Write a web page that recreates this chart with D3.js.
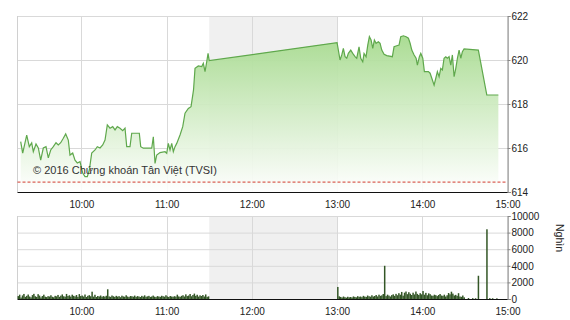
<!DOCTYPE html>
<html>
<head>
<meta charset="utf-8">
<script src="https://cdn.jsdelivr.net/npm/d3@7"></script>
<style>
  body { margin: 0; background: #fff; }
  svg { display: block; font-family: "Liberation Sans", Arial, sans-serif; }
</style>
</head>
<body>
<svg id="chart" width="570" height="320"></svg>
<script>
// price line (time, index value)
const priceTimes = [
  "9:17:15","9:18:40","9:21:29","9:23:19","9:25:00","9:26:08","9:28:02","9:29:39","9:31:20","9:33:10",
  "9:35:04","9:36:41","9:38:23","9:40:13","9:42:07","9:43:44","9:45:25","9:47:15","9:48:56","9:50:46",
  "9:51:58","9:53:52","9:55:29","9:57:07","9:59:01","10:00:55","10:02:32","10:04:09","10:05:34","10:07:15",
  "10:09:35","10:11:11","10:13:06","10:15:00","10:16:37","10:18:14","10:20:08","10:22:02","10:23:40","10:25:17",
  "10:27:11","10:29:05","10:30:42","10:31:54","10:34:13","10:35:25","10:40:46","10:41:45","10:43:35","10:49:30",
  "10:50:38","10:51:50","10:53:01","10:55:21","10:58:52","11:00:04","11:01:11","11:02:23","11:03:35","11:04:43",
  "11:05:55","11:07:07","11:09:26","11:11:20","11:12:57","11:15:17","11:17:11","11:18:56","11:19:59","11:22:19",
  "11:24:43","11:25:50","11:27:02","11:28:14","11:29:10","11:30:00",
  "13:00:00","13:02:06","13:03:18","13:04:26","13:05:38","13:06:49","13:07:57","13:09:38","13:11:02","13:12:39",
  "13:13:51","13:15:28","13:16:40","13:18:05","13:19:00","13:20:25","13:21:37","13:22:45","13:23:57","13:25:08",
  "13:26:16","13:27:28","13:29:05","13:30:17","13:31:29","13:33:06","13:35:00","13:38:56","13:40:07","13:42:01",
  "13:43:38","13:44:50","13:46:43","13:48:37","13:50:14","13:51:26","13:52:37","13:54:15","13:55:39","13:56:33",
  "13:57:58","13:58:57","14:00:21","14:01:29","14:04:18","14:05:30","14:07:07","14:08:19","14:09:31","14:10:38",
  "14:11:50","14:13:01","14:14:09","14:15:20","14:16:32","14:17:40","14:18:52","14:20:04","14:21:12","14:22:24",
  "14:23:36","14:24:44","14:25:55","14:27:07","14:28:14","14:29:26","14:39:29","14:45:25","14:53:34"
];
const priceValues = [
  616.29,615.77,616.59,616.06,616.23,615.83,616.18,616.00,615.45,616.00,
  616.06,615.55,615.91,616.06,616.24,616.14,616.24,616.44,616.64,616.36,
  615.68,615.77,615.45,615.32,615.38,614.86,614.70,614.70,615.00,615.77,
  615.91,616.06,616.00,616.14,616.36,617.05,616.90,616.97,616.82,616.97,
  616.90,616.79,616.90,616.06,616.06,616.67,616.67,616.06,615.99,615.99,
  616.51,615.30,615.68,615.79,615.83,615.76,616.21,615.91,616.21,615.83,
  616.06,616.21,616.59,616.97,617.58,617.80,617.88,618.64,619.62,619.73,
  619.70,619.85,619.47,619.92,620.30,619.97,
  620.79,620.00,620.23,620.53,620.15,620.08,620.30,620.45,620.30,620.15,
  620.08,620.60,620.08,619.92,620.30,620.15,620.68,621.06,620.91,620.53,
  620.91,620.76,620.83,620.76,620.45,620.26,620.20,620.15,620.60,620.65,
  620.68,621.06,621.10,621.06,620.99,620.76,620.45,620.23,620.08,619.77,
  620.15,620.30,620.08,619.47,619.47,619.40,619.09,618.86,619.17,619.47,
  619.24,619.62,619.55,620.08,620.15,620.08,620.15,619.77,620.23,619.24,
  619.62,620.08,620.45,620.08,620.38,620.50,620.45,618.41,618.41
];
const refPrice = 614.45;

// volume per minute, thousand shares (Nghìn)
const volAMStart = "9:15:00";
const volAM = [
  350,520,180,430,610,260,380,540,300,200,
  470,620,330,250,580,410,190,360,520,280,
  230,340,300,450,270,210,380,320,490,260,
  400,550,330,280,610,360,450,290,520,380,
  310,480,260,590,350,420,300,540,240,380,
  460,330,880,290,510,240,360,300,420,270,
  350,280,390,1170,310,260,420,330,250,380,
  290,340,220,400,310,270,450,300,230,360,
  330,280,410,260,350,300,240,380,290,440,
  270,320,380,250,300,410,280,230,350,300,
  260,390,330,280,450,310,240,360,300,270,
  340,290,520,310,260,380,450,300,560,350,
  420,600,330,480,650,380,510,290,440,360,
  480,300,550,260,320
];
const volPMStart = "13:00:00";
const volPM = [
  1450,320,250,180,300,220,160,270,200,240,
  180,310,250,200,340,260,300,220,380,290,
  250,420,330,280,450,300,360,480,310,520,
  380,440,600,4000,350,520,410,300,470,560,
  380,620,450,700,520,850,400,760,900,580,
  820,640,480,760,550,900,620,480,700,560,
  960,520,740,450,680,580,420,380,520,460,
  350,480,600,420,380,520,300,450,720,560,
  880,650,420,500,380,700,300,260,420,200,
  0,0,120,0,0,100,0,90,0,2800,
  0,0,0,0,0,8400,0,100,0,90,
  0,0,80,0
];

const priceTicks = [614, 616, 618, 620, 622];
const volTicks = [0, 2000, 4000, 6000, 8000, 10000];
const lunch = ["11:30:00", "13:00:00"];
const copyright = "© 2016 Chứng khoán Tân Việt (TVSI)";
const volUnit = "Nghìn";

const parse = d3.timeParse("%H:%M:%S");
const svg = d3.select("#chart");

const left = 17.5, right = 507.5;
const x = d3.scaleTime()
  .domain([parse("9:15:00"), parse("15:00:00")])
  .range([left, right]);
const yP = d3.scaleLinear().domain([614, 622]).range([192, 16]);
const yV = d3.scaleLinear().domain([0, 10000]).range([299, 216]);

const prices = priceTimes.map((t, i) => ({ t: parse(t), v: priceValues[i] }));
const mkVol = (start, arr) => arr.map((v, i) => ({ t: d3.timeMinute.offset(parse(start), i), v }));
const vols = mkVol(volAMStart, volAM).concat(mkVol(volPMStart, volPM)).filter(d => d.v > 0);

const defs = svg.append("defs");
const grad = defs.append("linearGradient")
  .attr("id", "areaGrad").attr("gradientUnits", "userSpaceOnUse")
  .attr("x1", 0).attr("x2", 0).attr("y1", 30).attr("y2", 192);
grad.append("stop").attr("offset", 0).attr("stop-color", "#a3d98a").attr("stop-opacity", 0.95);
grad.append("stop").attr("offset", 1).attr("stop-color", "#ffffff").attr("stop-opacity", 0.9);

const hours = d3.timeHour.range(parse("10:00:00"), parse("15:00:01"));

function panel(y, ticks, top, bottom) {
  const g = svg.append("g");
  // lunch break band
  g.append("rect")
    .attr("x", x(parse(lunch[0]))).attr("y", top)
    .attr("width", x(parse(lunch[1])) - x(parse(lunch[0])))
    .attr("height", bottom - top)
    .attr("fill", "#f0f0f0");
  // grid
  g.selectAll(".hg").data(ticks.filter(t => y(t) < bottom - 1)).enter().append("line")
    .attr("x1", left).attr("x2", right)
    .attr("y1", d => y(d) + 0.5).attr("y2", d => y(d) + 0.5)
    .attr("stroke", "#d9d9d9");
  g.selectAll(".vg").data(hours).enter().append("line")
    .attr("x1", d => Math.round(x(d)) + 0.5).attr("x2", d => Math.round(x(d)) + 0.5)
    .attr("y1", top).attr("y2", bottom)
    .attr("stroke", "#d9d9d9");
  g.append("line")
    .attr("x1", left).attr("x2", left).attr("y1", top).attr("y2", bottom)
    .attr("stroke", "#d0d0d0");
  return g;
}

panel(yP, priceTicks, 16, 192);
panel(yV, volTicks, 216, 299);

// price area + line
svg.append("path")
  .datum(prices)
  .attr("fill", "url(#areaGrad)")
  .attr("d", d3.area().x(d => x(d.t)).y0(192).y1(d => yP(d.v)));
svg.append("path")
  .datum(prices)
  .attr("fill", "none")
  .attr("stroke", "#5fa84c")
  .attr("stroke-width", 1.2)
  .attr("d", d3.line().x(d => x(d.t)).y(d => yP(d.v)));

// reference line
svg.append("line")
  .attr("x1", left).attr("x2", right)
  .attr("y1", yP(refPrice)).attr("y2", yP(refPrice))
  .attr("stroke", "#d23a2e").attr("stroke-dasharray", "3,2");

svg.append("text")
  .attr("x", 33).attr("y", 174)
  .attr("font-size", 11).attr("fill", "#333")
  .text(copyright);

// volume bars
svg.append("g").selectAll("rect").data(vols).enter().append("rect")
  .attr("x", d => x(d.t))
  .attr("width", 1.5)
  .attr("y", d => yV(d.v))
  .attr("height", d => 299 - yV(d.v))
  .attr("fill", "#335626");

// axes
function styleAxis(g) {
  g.selectAll("text").attr("fill", "#222").attr("font-size", 10)
    .attr("font-family", "Liberation Sans, Arial, sans-serif");
}
const xAxis = d3.axisBottom(x).tickValues(hours).tickFormat(d3.timeFormat("%H:%M"))
  .tickSize(0).tickPadding(9);
svg.append("g").attr("transform", "translate(0,192)").call(xAxis).call(styleAxis)
  .call(g => g.select(".domain").attr("stroke", "#111").attr("d", `M${left},0.5H${right + 3}`));
svg.append("g").attr("transform", "translate(0,299)").call(xAxis).call(styleAxis)
  .call(g => g.select(".domain").attr("stroke", "#111").attr("d", `M${left},0.5H${right + 3}`));

svg.append("g").attr("transform", `translate(${right},0)`)
  .call(d3.axisRight(yP).tickValues(priceTicks).tickFormat(d3.format("d")).tickSize(3).tickPadding(1))
  .call(styleAxis)
  .call(g => g.selectAll("line, .domain").attr("stroke", "#888"));
svg.append("g").attr("transform", `translate(${right},0)`)
  .call(d3.axisRight(yV).tickValues(volTicks).tickFormat(d3.format("d")).tickSize(3).tickPadding(1))
  .call(styleAxis)
  .call(g => g.selectAll("line, .domain").attr("stroke", "#888"));

svg.append("text")
  .attr("transform", "translate(556,238) rotate(90)")
  .attr("text-anchor", "middle")
  .attr("font-size", 10.5).attr("fill", "#222")
  .text(volUnit);
</script>
</body>
</html>
